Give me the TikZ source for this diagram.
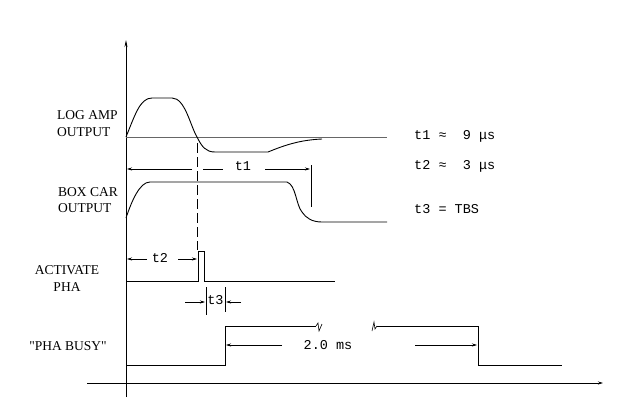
\documentclass[tikz,border=0pt]{standalone}
\usepackage{fontspec}
\setmainfont{Liberation Serif}[Ligatures=TeXOff]
\newfontfamily\tw{Liberation Mono}
\usetikzlibrary{arrows.meta}
\begin{document}
\begin{tikzpicture}[x=1pt,y=-1pt,
  sig/.style={line width=0.9pt},
  dim/.style={line width=0.6pt},
  tip/.style={-{Stealth[length=5pt,width=3pt]}},
  lbl/.style={font=\fontsize{13.5}{15}\selectfont, inner sep=0pt},
  mono/.style={font=\tw\fontsize{13.5}{15}\selectfont, inner sep=0pt}]
\useasboundingbox (0,0) rectangle (625,405);
% axes
\coordinate (yb) at (126,397); \coordinate (yt) at (126,40);
\draw[sig,-{Stealth[length=7pt,width=3pt]}] (yb) -- (yt);
\coordinate (xl) at (87,383); \coordinate (xr) at (603,383);
\draw[sig,tip] (xl) -- (xr);
% log amp
\draw[line width=0.4pt, black!60] (126,137) -- (387,137);
\draw[sig] (126,137) .. controls (135,115) and (140,98) .. (152,98) -- (172,98)
  .. controls (185,98) and (190,125) .. (197,137)
  .. controls (202,147) and (206,152) .. (215,152) -- (268,152)
  .. controls (285,145) and (300,140) .. (322,139);
% box car
\draw[sig] (126,218) .. controls (132,200) and (140,182) .. (150,182) -- (287,182)
  .. controls (296,185) and (296,205) .. (302,212)
  .. controls (306,218) and (312,222) .. (322,222) -- (387,222);
% dashed vertical
\draw[dim, dash pattern=on 10pt off 4pt] (197,143) -- (197,250);
% activate pha
\draw[sig] (126,281) -- (198,281) -- (198,251) -- (204,251) -- (204,281) -- (335,281);
% pha busy
\draw[sig] (126,365) -- (225,365) -- (225,326) -- (316,326);
\draw[dim] (316,326) -- (318,323) -- (319,331) -- (322,324);
\draw[dim] (372,331) -- (374,322) -- (375,329) -- (377,326);
\draw[sig] (377,326) -- (478,326) -- (478,365) -- (562,365);
% t1
\coordinate (t1a) at (127,169); \coordinate (t1b) at (310,169);
\draw[dim] (311,165) -- (311,207);
\draw[dim,tip] (192,169) -- (t1a);
\draw[dim] (203,169) -- (223,169);
\draw[dim,tip] (265,169) -- (t1b);
\node[mono] (lt1) at (243,166) {t1};
% t2
\draw[dim,tip] (147,259) -- (127,259);
\node[mono] (lt2) at (160,258) {t2};
\draw[dim,tip] (178,259) -- (197,259);
% t3
\draw[dim] (206,287) -- (206,315);
\draw[dim] (225,287) -- (225,312);
\draw[dim,tip] (185,302) -- (205,302);
\draw[dim,tip] (241,302) -- (226,302);
\node[mono] (lt3) at (215.5,300) {t3};
% 2.0 ms
\draw[dim,tip] (282,345) -- (226,345);
\draw[dim,tip] (415,345) -- (477,345);
\node[mono] (lms) at (328,345) {2.0 ms};
% left labels
\node[lbl,anchor=west] (a1) at (57,115) {LOG AMP};
\node[lbl,anchor=west] (a2) at (57,132) {OUTPUT};
\node[lbl,anchor=west] (b1) at (58,192) {BOX CAR};
\node[lbl,anchor=west] (b2) at (58,208) {OUTPUT};
\node[lbl] (c1) at (67,270) {ACTIVATE};
\node[lbl] (c2) at (67,287) {PHA};
\node[lbl] (d1) at (68,346) {"PHA BUSY"};
% right labels
\node[mono,anchor=west] (r1) at (414,136) {t1 ≈\ \ 9 μs};
\node[mono,anchor=west] (r2) at (414,166) {t2 ≈\ \ 3 μs};
\node[mono,anchor=west] (r3) at (414,209) {t3 = TBS};
\end{tikzpicture}
\end{document}
